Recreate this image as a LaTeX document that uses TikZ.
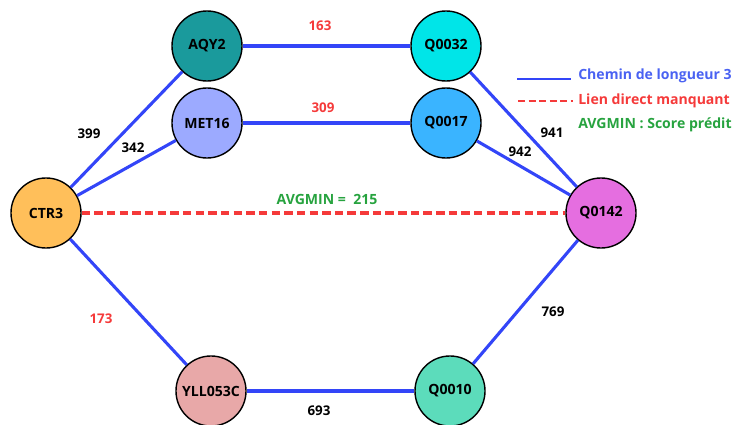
\documentclass[tikz,border=0pt]{standalone}
\usepackage{fontspec}
\setmainfont{Open Sans}
\definecolor{pathblue}{HTML}{3345F8}
\definecolor{missred}{HTML}{F53A3A}
\definecolor{scoregreen}{HTML}{27A33F}
\definecolor{legblue}{HTML}{4A62F2}
\begin{document}
\begin{tikzpicture}[
    x = 0.025cm, y = -0.025cm,
    prot/.style = {circle, draw = black, line width = 1pt, minimum size = 1.75cm,
                   inner sep = 0pt, font = \bfseries\fontsize{10}{12}\selectfont},
    path3/.style = {pathblue, line width = 2.2pt},
    missing/.style = {missred, line width = 2.2pt, dash pattern = on 6pt off 3pt},
    wlbl/.style = {font = \bfseries\fontsize{9.5}{11}\selectfont},
    leg/.style = {anchor = west, inner sep = 0pt, font = \bfseries\fontsize{10}{12}\selectfont}
  ]
  \useasboundingbox (0,0) rectangle (734,425);
  % nodes
  \node[prot, fill = {rgb,255:red,26;green,154;blue,156}]  (aqy2)  at (207,  46) {AQY2};
  \node[prot, fill = {rgb,255:red,156;green,170;blue,255}] (met16) at (207, 123) {MET16};
  \node[prot, fill = {rgb,255:red,0;green,229;blue,232}]   (q32)   at (446,  46) {Q0032};
  \node[prot, fill = {rgb,255:red,58;green,180;blue,255}]  (q17)   at (446, 123) {Q0017};
  \node[prot, fill = {rgb,255:red,255;green,191;blue,90}]  (ctr3)  at ( 46, 213) {CTR3};
  \node[prot, fill = {rgb,255:red,229;green,110;blue,224}] (q142)  at (601, 213) {Q0142};
  \node[prot, fill = {rgb,255:red,232;green,168;blue,168}] (yll)   at (211, 391) {YLL053C};
  \node[prot, fill = {rgb,255:red,92;green,220;blue,187}]  (q10)   at (450, 391) {Q0010};
  % paths of length 3
  \draw[path3] (ctr3) -- (aqy2);
  \draw[path3] (ctr3) -- (met16);
  \draw[path3] (aqy2) -- (q32);
  \draw[path3] (met16) -- (q17);
  \draw[path3] (q32) -- (q142);
  \draw[path3] (q17) -- (q142);
  \draw[path3] (ctr3) -- (yll);
  \draw[path3] (yll) -- (q10);
  \draw[path3] (q10) -- (q142);
  % the missing link
  \draw[missing] (ctr3) -- (q142);
  % weights
  \node[wlbl] (w399) at ( 89, 134) {399};
  \node[wlbl] (w342) at (133, 148) {342};
  \node[wlbl, missred] (w163) at (320, 26) {163};
  \node[wlbl, missred] (w309) at (323, 108) {309};
  \node[wlbl] (w941) at (552, 133) {941};
  \node[wlbl] (w942) at (520, 152) {942};
  \node[wlbl, missred] (w173) at (101, 319) {173};
  \node[wlbl] (w693) at (319, 411) {693};
  \node[wlbl] (w769) at (553, 312) {769};
  \node[wlbl, scoregreen, font = \bfseries\fontsize{10}{12}\selectfont] (avg) at (327, 199) {AVGMIN =\ \ 215};
  % legend
  \coordinate (l1a) at (517, 79);  \coordinate (l1b) at (571, 79);
  \coordinate (l2a) at (518, 101); \coordinate (l2b) at (573, 101);
  \draw[pathblue, line width = 2pt] (l1a) -- (l1b);
  \draw[missred, line width = 2pt, dash pattern = on 5pt off 2.5pt] (l2a) -- (l2b);
  \node[leg, legblue]    (leg1) at (578, 76)  {Chemin de longueur 3};
  \node[leg, missred]    (leg2) at (578, 101) {Lien direct manquant};
  \node[leg, scoregreen] (leg3) at (578, 125) {AVGMIN : Score prédit};
\end{tikzpicture}
\end{document}
